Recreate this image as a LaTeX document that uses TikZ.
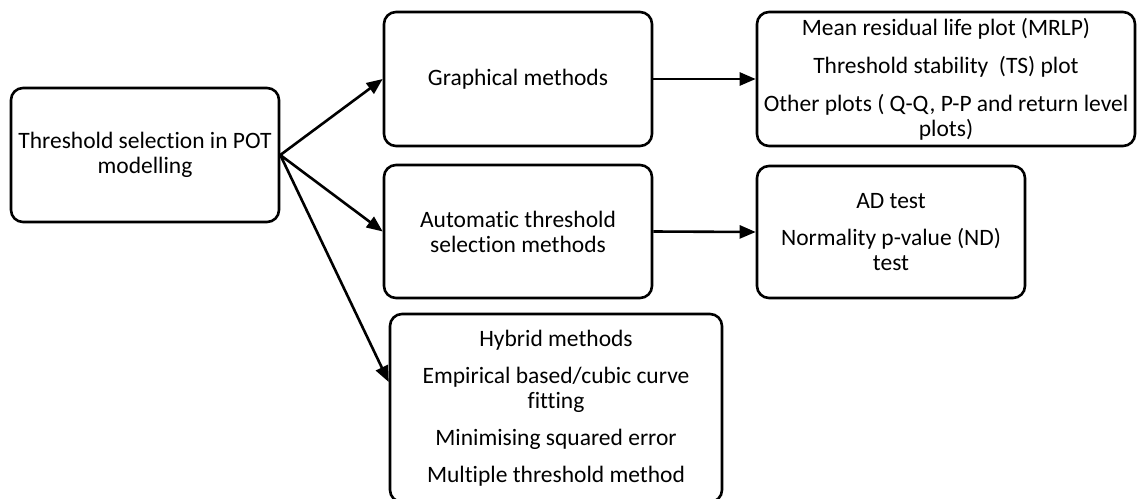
\documentclass[tikz,border=0pt]{standalone}
\usepackage{fontspec}
\setmainfont{Carlito}[Ligatures=NoCommon]
\usetikzlibrary{arrows.meta}
\begin{document}
\begin{tikzpicture}[x=1pt,y=-1pt,
  box/.style={draw=black,line width=2.6pt,rounded corners=12pt,align=center,inner sep=0pt,
    font=\fontsize{23.5}{25}\selectfont},
  conn/.style={line width=2.6pt,-{Triangle[length=16pt,width=13pt]}}]
\useasboundingbox (0,0) rectangle (1137,498);
\node[box,minimum width=268pt,minimum height=134pt] (root) at (145,155) {Threshold selection in POT\\modelling};
\node[box,minimum width=268pt,minimum height=134pt] (graph) at (518,79) {Graphical methods};
\node[box,minimum width=268pt,minimum height=133pt] (auto) at (518,231.5) {Automatic threshold\\selection methods};
\node[box,minimum width=378pt,minimum height=134pt] (r1) at (946,79) {Mean residual life plot (MRLP)\\[13pt]Threshold stability\ \ (TS) plot\\[13pt]Other plots ( Q-Q, P-P and return level\\plots)};
\node[box,minimum width=268pt,minimum height=132pt] (r2) at (891,232) {AD test\\[12pt]Normality p-value (ND)\\test};
\node[box,minimum width=332pt,minimum height=188pt] (hyb) at (556,408) {Hybrid methods\\[12pt]Empirical based/cubic curve\\fitting\\[12pt]Minimising squared error\\[12pt]Multiple threshold method};
\draw[conn] (root.east) -- (graph.west);
\draw[conn] (root.east) -- (auto.west);
\draw[conn] (root.east) -- ([yshift=26pt]hyb.west);
\draw[conn] (graph.east) -- (r1.west);
\draw[conn] (auto.east) -- (r2.west);
\end{tikzpicture}
\end{document}
